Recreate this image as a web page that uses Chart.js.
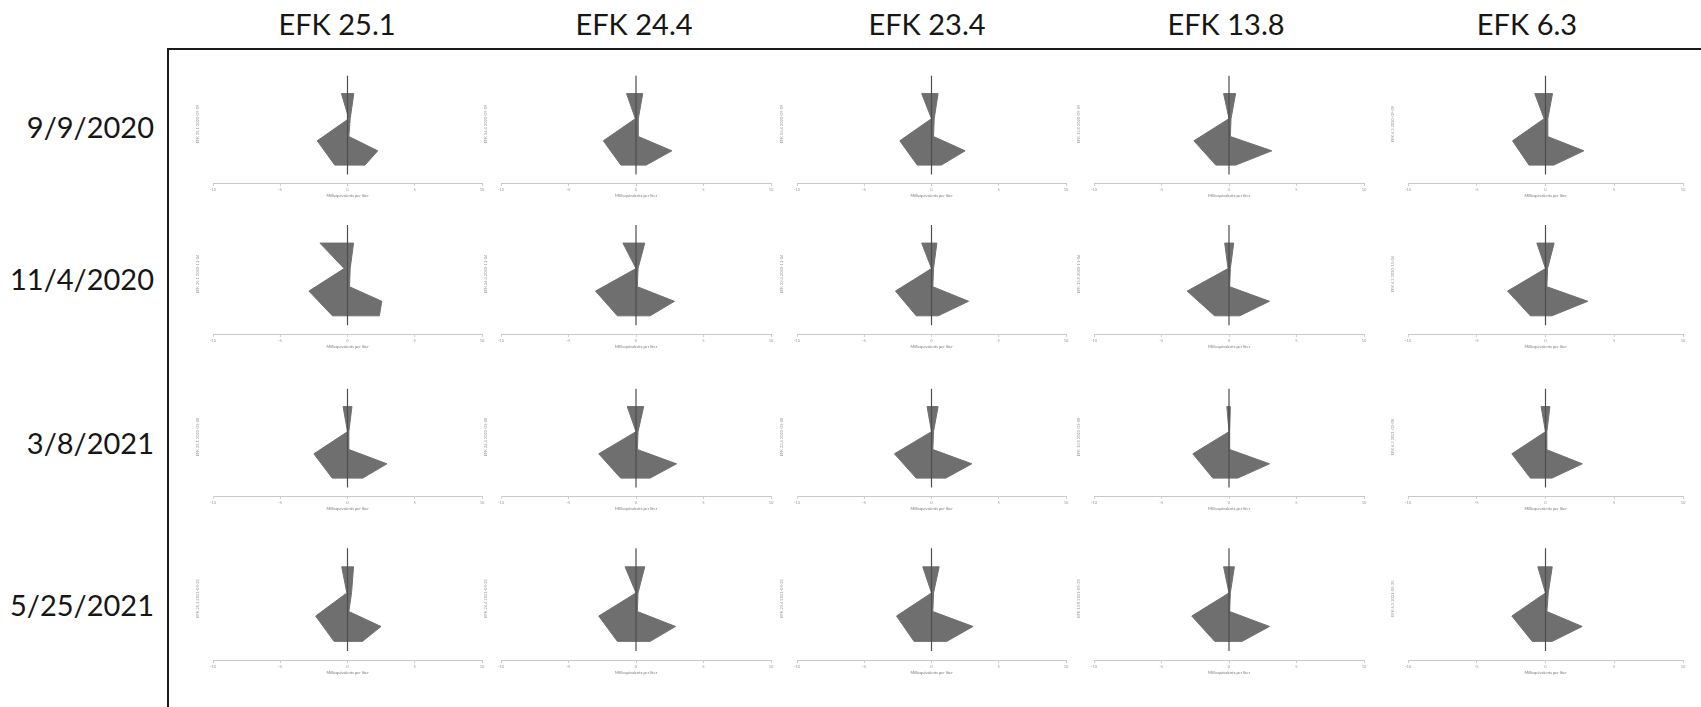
<!DOCTYPE html>
<html><head><meta charset="utf-8">
<script src="https://cdn.jsdelivr.net/npm/chart.js@4"></script>
<style>
html,body{margin:0;padding:0;background:#fff;}
#wrap{position:relative;width:1701px;height:707px;overflow:hidden;font-family:Lato,"Open Sans",sans-serif;}
.frame{position:absolute;left:167px;top:48px;width:1600px;height:700px;border-left:2px solid #1a1a1a;border-top:2px solid #1a1a1a;}
.hdr{position:absolute;top:8px;width:200px;margin-left:-100px;text-align:center;font-size:29px;color:#161616;line-height:32px;white-space:nowrap;}
.rowlab{position:absolute;left:0;width:154px;text-align:right;font-size:29px;color:#161616;line-height:32px;margin-top:-16px;white-space:nowrap;}
canvas{position:absolute;}
</style></head><body><div id="wrap"><div class="frame"></div></div>
<script>
// ---- data ----
const stations = ['EFK 25.1', 'EFK 24.4', 'EFK 23.4', 'EFK 13.8', 'EFK 6.3'];
const dates = ['9/9/2020', '11/4/2020', '3/8/2021', '5/25/2021'];
const isoDates = ['2020-09-09', '2020-11-04', '2021-03-08', '2021-05-25'];
const xTicks = [-10, -5, 0, 5, 10];
const xTitle = 'Milliequivalents per liter';
// relative depth of each polygon vertex (0 = top row, 1 = bottom row)
const vertexDepth = [0, 0.35, 0.66, 1, 1, 0.8, 0.6, 0.35, 0];
// vertex values (meq/L), in the order of vertexDepth
const d200909 = [
  [-0.45, 0.1, -2.25, -0.95, 1.3, 2.25, 0.1, 0.2, 0.47],
  [-0.7, -0.05, -2.42, -1.12, 0.75, 2.66, 0.17, 0.17, 0.5],
  [-0.73, 0.0, -2.36, -1.06, 0.73, 2.5, 0.15, 0.2, 0.49],
  [-0.4, 0.0, -2.6, -0.98, 0.5, 3.17, 0.1, 0.15, 0.49],
  [-0.78, -0.1, -2.4, -1.2, 0.6, 2.79, 0.15, 0.17, 0.51]
];
const d201104 = [
  [-2.05, -0.25, -2.87, -1.12, 2.37, 2.55, 0.15, 0.2, 0.45],
  [-0.97, 0.0, -3.0, -1.38, 1.05, 2.85, 0.1, 0.15, 0.65],
  [-0.73, 0.0, -2.68, -1.14, 0.5, 2.76, 0.1, 0.15, 0.4],
  [-0.32, -0.07, -3.1, -1.07, 0.8, 3.0, 0.05, 0.1, 0.35],
  [-0.63, 0.0, -2.76, -1.1, 0.47, 3.08, 0.1, 0.15, 0.63]
];
const d210308 = [
  [-0.33, 0.0, -2.5, -1.14, 1.14, 2.93, 0.1, 0.1, 0.33],
  [-0.65, 0.0, -2.76, -1.14, 1.05, 3.0, 0.1, 0.15, 0.57],
  [-0.33, 0.0, -2.76, -1.14, 1.06, 3.0, 0.1, 0.15, 0.49],
  [-0.16, 0.0, -2.68, -1.2, 0.65, 3.0, 0.05, 0.05, 0.1],
  [-0.32, 0.0, -2.45, -1.1, 0.47, 2.68, 0.05, 0.1, 0.32]
];
const d210525 = [
  [-0.43, -0.05, -2.37, -1.0, 1.12, 2.49, 0.1, 0.3, 0.45],
  [-0.81, 0.0, -2.76, -1.38, 1.05, 2.93, 0.1, 0.15, 0.65],
  [-0.65, 0.0, -2.6, -1.3, 1.14, 3.09, 0.1, 0.15, 0.57],
  [-0.4, 0.0, -2.76, -1.06, 0.97, 3.0, 0.05, 0.1, 0.4],
  [-0.56, 0.0, -2.45, -0.97, 0.49, 2.67, 0.1, 0.2, 0.49]
];
const allRows = [d200909, d201104, d210308, d210525];

// ---- layout (pixels) ----
const hdrX = [337, 634, 927, 1226, 1527];
const rowLabY = [127, 279, 443, 605];
const colXm = [213, 501, 797, 1094, 1408];   // pixel of x = -10
const colXp = [482, 771, 1066, 1364, 1683];  // pixel of x = +10
const rowTop = [93.3, 243.3, 407, 567];      // pixel of depth 0
const rowSpan = [71.7, 72.7, 71.5, 74.7];    // pixels per depth unit
const yMin = -0.4, yMax = 1.25;
const axisSpan = [-0.25, 1.13];
const Y_W = 20, X_H = 16, PAD_R = 6;

const wrap = document.getElementById('wrap');
stations.forEach((s, i) => {
  const d = document.createElement('div');
  d.className = 'hdr'; d.textContent = s; d.style.left = hdrX[i] + 'px';
  wrap.appendChild(d);
});
dates.forEach((s, i) => {
  const d = document.createElement('div');
  d.className = 'rowlab'; d.textContent = s; d.style.top = rowLabY[i] + 'px';
  wrap.appendChild(d);
});

const fillCol = '#6f6f6f';
allRows.forEach((rowData, r) => {
  rowData.forEach((vals, c) => {
    const cv = document.createElement('canvas');
    const plotW = colXp[c] - colXm[c];
    const plotH = (yMax - yMin) * rowSpan[r];
    const w = Math.round(Y_W + plotW + PAD_R);
    const h = Math.round(plotH + X_H);
    cv.width = w; cv.height = h;
    cv.style.width = w + 'px'; cv.style.height = h + 'px';
    cv.style.left = (colXm[c] - Y_W) + 'px';
    cv.style.top = Math.round(rowTop[r] + yMin * rowSpan[r]) + 'px';
    wrap.appendChild(cv);
    const poly = vals.map((v, k) => ({x: v, y: vertexDepth[k]}));
    poly.push({x: vals[0], y: vertexDepth[0]});
    new Chart(cv, {
      type: 'line',
      data: {
        datasets: [
          {data: [{x: 0, y: axisSpan[0]}, {x: 0, y: axisSpan[1]}], borderColor: '#4d4d4d', borderWidth: 1.2, pointRadius: 0, fill: false},
          {data: poly, borderColor: fillCol, backgroundColor: fillCol, borderWidth: 1, pointRadius: 0, fill: 'shape', tension: 0}
        ]
      },
      options: {
        responsive: false, animation: false, events: [],
        layout: {padding: {left: 0, right: PAD_R, top: 0, bottom: 0}},
        plugins: {legend: {display: false}, tooltip: {enabled: false}},
        scales: {
          x: {
            type: 'linear', min: -10, max: 10,
            afterBuildTicks: s => { s.ticks = xTicks.map(v => ({value: v})); },
            afterFit: s => { s.height = X_H; },
            ticks: {font: {size: 4, family: 'Lato'}, color: '#9a9a9a', padding: 1, maxRotation: 0, autoSkip: false},
            grid: {drawOnChartArea: false, drawTicks: true, tickLength: 3, color: '#cfcfcf'},
            border: {display: true, color: '#c9c9c9', width: 1},
            title: {display: true, text: xTitle, font: {size: 4, family: 'Lato'}, color: '#777', padding: 1}
          },
          y: {
            type: 'linear', reverse: true, min: yMin, max: yMax,
            afterFit: s => { s.width = Y_W; },
            ticks: {display: false},
            grid: {display: false},
            border: {display: false},
            title: {display: true, text: stations[c] + ' ' + isoDates[r], font: {size: 4, family: 'Lato'}, color: '#999', padding: 2}
          }
        }
      }
    });
  });
});
</script>
</body></html>
